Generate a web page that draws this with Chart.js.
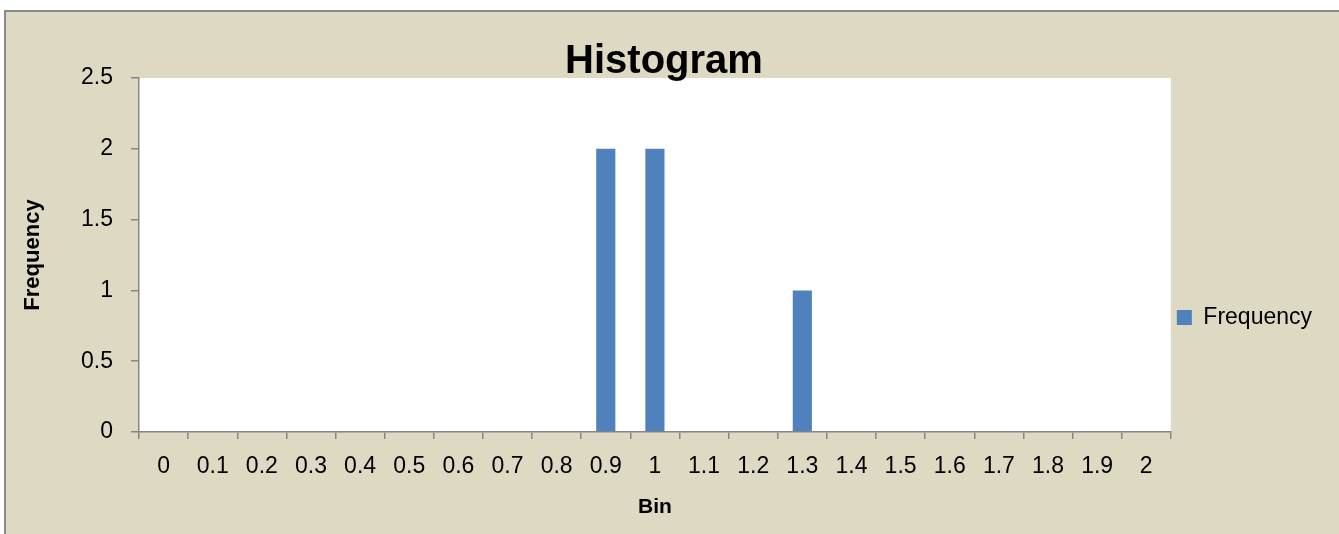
<!DOCTYPE html>
<html>
<head>
<meta charset="utf-8">
<script src="https://cdn.jsdelivr.net/npm/chart.js@4"></script>
<style>
body { margin: 0; background: #ffffff; }
#frame {
    position: absolute; left: 4px; top: 10px;
    width: 1333px; height: 522px;
    border-left: 2px solid #8a8a8a; border-top: 2px solid #8a8a8a;
    background: #ddd9c3;
}
#chart { display: block; }
</style>
</head>
<body>
<div id="frame"><canvas id="chart" width="1333" height="522"></canvas></div>
<script>
var binLabels = ['0', '0.1', '0.2', '0.3', '0.4', '0.5', '0.6', '0.7', '0.8', '0.9', '1',
                 '1.1', '1.2', '1.3', '1.4', '1.5', '1.6', '1.7', '1.8', '1.9', '2'];
var frequencyValues = [0, 0, 0, 0, 0, 0, 0, 0, 0, 2, 2, 0, 0, 1, 0, 0, 0, 0, 0, 0, 0];
var yTicks = [0, 0.5, 1, 1.5, 2, 2.5];

var fontFamily = "'Liberation Sans', Arial, sans-serif";
var axisGrey = '#868686';

// white plot area on the beige chart background
var plotFill = {
    id: 'plotFill',
    beforeDraw: function(chart) {
        var a = chart.chartArea, ctx = chart.ctx;
        ctx.save();
        ctx.fillStyle = '#ffffff';
        ctx.fillRect(a.left, a.top, a.right - a.left, a.bottom - a.top);
        ctx.restore();
    }
};

var ctx = document.getElementById('chart').getContext('2d');
var histChart = new Chart(ctx, {
    type: 'bar',
    data: {
        labels: binLabels,
        datasets: [{
            label: 'Frequency',
            data: frequencyValues,
            backgroundColor: '#4f81bd',
            borderWidth: 0,
            categoryPercentage: 1.0,
            barPercentage: 0.39
        }]
    },
    options: {
        responsive: false,
        animation: false,
        layout: { padding: { left: 0, right: 17, top: 0, bottom: 0 } },
        scales: {
            x: {
                offset: true,
                grid: { offset: true, drawOnChartArea: false, tickLength: 7, color: axisGrey, lineWidth: 1.5 },
                border: { color: axisGrey, width: 1.5 },
                ticks: { color: '#000', font: { family: fontFamily, size: 23 }, padding: 14, maxRotation: 0, autoSkip: false },
                title: { display: true, text: 'Bin', color: '#000', font: { family: fontFamily, size: 21, weight: 'bold' }, padding: { top: 0, bottom: 14 } },
                afterFit: function(scale) { scale.height = 102; }
            },
            y: {
                min: 0,
                max: 2.5,
                afterBuildTicks: function(scale) { scale.ticks = yTicks.map(function(v) { return { value: v }; }); },
                grid: { drawOnChartArea: false, tickLength: 8, color: axisGrey, lineWidth: 1.5 },
                border: { color: axisGrey, width: 1.5 },
                ticks: {
                    color: '#000', font: { family: fontFamily, size: 23 }, padding: 18,
                    callback: function(value) { return String(value); }
                },
                title: { display: true, text: 'Frequency', color: '#000', font: { family: fontFamily, size: 22, weight: 'bold' }, padding: { top: 14, bottom: 0 } },
                afterFit: function(scale) { scale.width = 133; }
            }
        },
        plugins: {
            title: {
                display: true,
                text: 'Histogram',
                color: '#000',
                font: { family: fontFamily, size: 40, weight: 'bold', lineHeight: 0.95 },
                padding: { top: 31, bottom: -3 }
            },
            legend: {
                position: 'right',
                align: 'start',
                title: { display: true, text: '', font: { size: 10 }, padding: { top: 276, bottom: 0 } },
                labels: { color: '#000', font: { family: fontFamily, size: 23 }, boxWidth: 15, boxHeight: 15, padding: 6 }
            },
            tooltip: { enabled: false }
        }
    },
    plugins: [plotFill]
});
</script>
</body>
</html>
